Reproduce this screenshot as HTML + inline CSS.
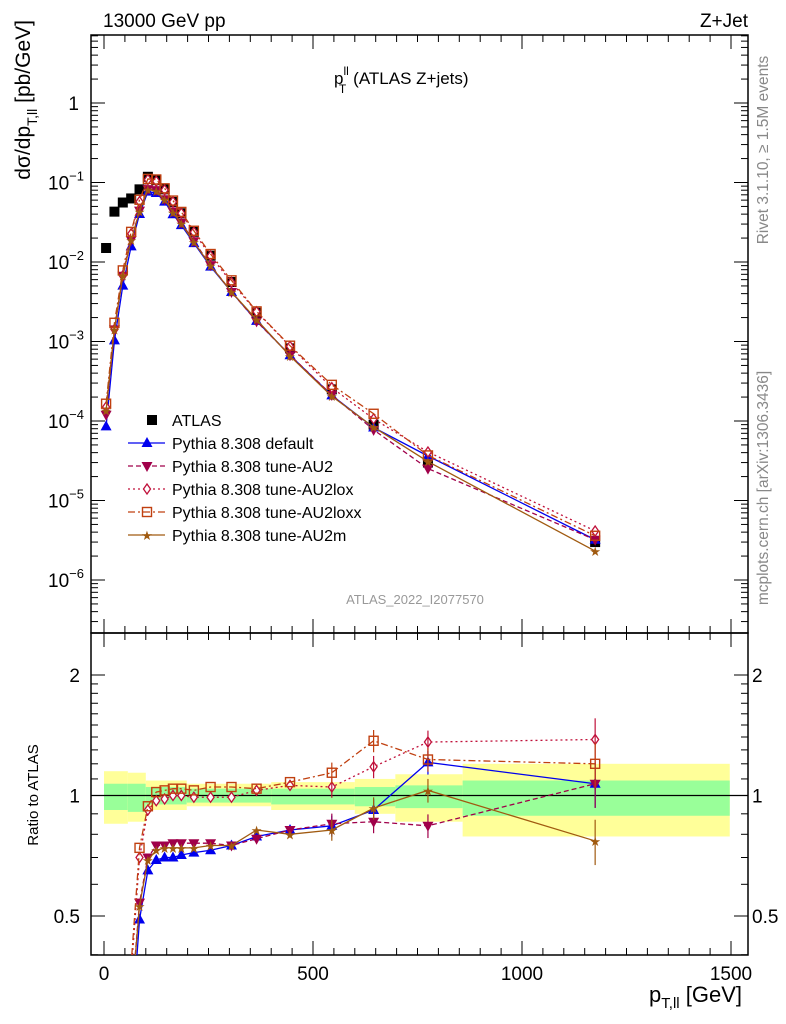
<!DOCTYPE html>
<html><head><meta charset="utf-8"><style>
html,body{margin:0;padding:0;background:#fff;overflow:hidden;width:786px;height:1024px;position:relative}
svg{display:block;position:absolute;left:0;top:0;font-family:"Liberation Sans",sans-serif;overflow:hidden}
</style></head><body>
<svg id="c" width="786" height="1024" viewBox="0 0 786 1024">
<rect x="0" y="0" width="786" height="1024" fill="#fff"/>
<g id="bands"></g>
<g id="frame"></g>
<g id="series"></g>
<g id="legend"></g>
<text x="103" y="27" font-size="19">13000 GeV pp</text>
<text x="748" y="27" font-size="19" text-anchor="end">Z+Jet</text>
<text x="334" y="84" font-size="17">p<tspan dy="-9" font-size="12">ll</tspan><tspan dx="-10" dy="18" font-size="12">T</tspan><tspan dx="7" dy="-9">(ATLAS Z+jets)</tspan></text>
<text x="415" y="604" font-size="13" fill="#999" text-anchor="middle">ATLAS_2022_I2077570</text>
<text transform="translate(30,20) rotate(-90)" font-size="21" text-anchor="end">dσ/dp<tspan dy="7" font-size="14">T,ll</tspan><tspan dy="-7"> [pb/GeV]</tspan></text>
<text transform="translate(38,795) rotate(-90)" font-size="15" text-anchor="middle">Ratio to ATLAS</text>
<text x="742" y="1002" font-size="22" text-anchor="end">p<tspan dy="6" font-size="15">T,ll</tspan><tspan dy="-6"> [GeV]</tspan></text>
<text transform="translate(768,150) rotate(-90)" font-size="15.5" fill="#888" text-anchor="middle">Rivet 3.1.10, ≥ 1.5M events</text>
<text transform="translate(768,488) rotate(-90)" font-size="15.5" fill="#888" text-anchor="middle">mcplots.cern.ch [arXiv:1306.3436]</text>
</svg>
<script>
const xCenters=[5,25,45,65,85,105,125,145,165,185,215,255,305,365,445,545,645,775,1175];
const atlasVals=[0.015,0.043,0.056,0.063,0.082,0.118,0.107,0.082,0.057,0.041,0.024,0.012,0.0056,0.0023,0.00082,0.00025,0.00009,0.00003,0.000003];
const ratioDefault=[0.0057,0.024,0.09,0.25,0.49,0.65,0.69,0.70,0.70,0.71,0.72,0.73,0.75,0.79,0.82,0.84,0.92,1.21,1.07];
const ratioAU2=[0.008,0.033,0.12,0.3,0.54,0.70,0.75,0.75,0.76,0.76,0.76,0.76,0.75,0.78,0.82,0.85,0.86,0.84,1.07];
const ratioAU2lox=[0.01,0.033,0.12,0.36,0.70,0.92,0.97,0.98,1.0,1.0,0.99,0.99,0.99,1.03,1.06,1.05,1.18,1.36,1.38];
const ratioAU2loxx=[0.011,0.04,0.14,0.38,0.74,0.94,1.02,1.03,1.04,1.04,1.03,1.05,1.05,1.04,1.08,1.14,1.37,1.23,1.2];
const ratioAU2m=[0.009,0.033,0.12,0.3,0.53,0.69,0.73,0.74,0.74,0.74,0.74,0.75,0.75,0.82,0.80,0.82,0.93,1.03,0.77];
const bandEdges=[0,57,100,198,400,600,697,858,1497];
const bandGreenLo=[0.92,0.91,0.95,0.96,0.95,0.94,0.93,0.89];
const bandGreenHi=[1.07,1.07,1.05,1.04,1.04,1.05,1.06,1.09];
const bandYellowLo=[0.85,0.86,0.92,0.94,0.92,0.90,0.86,0.79];
const bandYellowHi=[1.15,1.14,1.09,1.07,1.08,1.10,1.13,1.20];
const topTicks=[[1,"1"],[0.1,"10"],[0.01,"10"],[0.001,"10"],[1e-4,"10"],[1e-5,"10"],[1e-6,"10"]];
const topExp=["","−1","−2","−3","−4","−5","−6"];
const xTicks=[0,500,1000,1500];
const ratioTicks=[2,1,0.5];

const NS="http://www.w3.org/2000/svg";
const L=91,R=748,T1=35,B1=633,T2=633,B2=955;
const X=v=>104+v*0.418;
const Y1=v=>103-Math.log10(v)*79.5;
const Y2=v=>795.5-Math.log2(v)*120.5;
function mk(p,tag,a){const e=document.createElementNS(NS,tag);for(const k in a)e.setAttribute(k,a[k]);p.appendChild(e);return e;}
const svg=document.getElementById('c');
const gB=document.getElementById('bands'),gF=document.getElementById('frame'),gS=document.getElementById('series'),gL=document.getElementById('legend');

for(let i=0;i<bandGreenLo.length;i++){
 const x0=X(bandEdges[i]),x1=X(bandEdges[i+1]);
 const y=mk(gB,'rect',{x:x0,y:Y2(bandYellowHi[i]),width:x1-x0,height:Y2(bandYellowLo[i])-Y2(bandYellowHi[i]),fill:'#ffff99'});
 
 
 const g=mk(gB,'rect',{x:x0,y:Y2(bandGreenHi[i]),width:x1-x0,height:Y2(bandGreenLo[i])-Y2(bandGreenHi[i]),fill:'#99ff99'});
 
 
}
const unity=mk(gF,'line',{x1:L,x2:R,y1:Y2(1),y2:Y2(1),stroke:'#000','stroke-width':1.2});


const f1=mk(gF,'rect',{x:L,y:T1,width:R-L,height:B1-T1,fill:'none',stroke:'#000','stroke-width':1.5});


const f2=mk(gF,'rect',{x:L,y:T2,width:R-L,height:B2-T2,fill:'none',stroke:'#000','stroke-width':1.5});


for(let d=-7;d<=0;d++){for(let m=1;m<=9;m++){const v=m*Math.pow(10,d);const y=Y1(v);if(y<T1||y>B1)continue;const len=m==1?14:7;
 mk(gF,'line',{x1:L,x2:L+len,y1:y,y2:y,stroke:'#000'});mk(gF,'line',{x1:R-len,x2:R,y1:y,y2:y,stroke:'#000'});}}
topTicks.forEach((t,i)=>{const y=Y1(t[0]);const tx=mk(gF,'text',{x:i==0?79:66,y:y+7,'font-size':19,'text-anchor':i==0?'end':'middle'});
 tx.textContent=t[1];
 
 
 if(topExp[i]){const s=mk(tx,'tspan',{dy:-9,'font-size':13});s.textContent=topExp[i];}});
[0.4,0.5,0.6,0.7,0.8,0.9,1,1.1,1.2,1.3,1.4,1.5,1.6,1.7,1.8,1.9,2].forEach(v=>{const y=Y2(v);if(y<T2||y>B2)return;const len=(v==0.5||v==1||v==2)?14:7;
 mk(gF,'line',{x1:L,x2:L+len,y1:y,y2:y,stroke:'#000'});mk(gF,'line',{x1:R-len,x2:R,y1:y,y2:y,stroke:'#000'});});
ratioTicks.forEach(v=>{[[80,'end'],[752,'start']].forEach(p=>{const t=mk(gF,'text',{x:p[0],y:Y2(v)+7,'font-size':19,'text-anchor':p[1]});t.textContent=String(v);
 
 });});
for(let v=0;v<=1500;v+=50){const x=X(v);if(x<L||x>R)continue;const len=v%500==0?14:7;
 [[T1,1],[B1,-1],[T2,1],[B2,-1]].forEach(p=>mk(gF,'line',{x1:x,x2:x,y1:p[0],y2:p[0]+p[1]*len,stroke:'#000'}));}
xTicks.forEach(v=>{const t=mk(gF,'text',{x:X(v),y:980,'font-size':19,'text-anchor':'middle'});t.textContent=String(v);
 
 });

function marker(g,type,x,y,col){
 const s=5;
 if(type=='sq')return mk(g,'rect',{x:x-s,y:y-s,width:2*s,height:2*s,fill:'#000'});
 if(type=='up')return mk(g,'polygon',{points:`${x},${y-6} ${x-5.5},${y+4} ${x+5.5},${y+4}`,fill:col});
 if(type=='down')return mk(g,'polygon',{points:`${x},${y+6} ${x-5.5},${y-4} ${x+5.5},${y-4}`,fill:col});
 if(type=='dia')return mk(g,'polygon',{points:`${x},${y-5} ${x-3.5},${y} ${x},${y+5} ${x+3.5},${y}`,fill:'#fff',stroke:col,'stroke-width':1.3});
 if(type=='osq')return mk(g,'rect',{x:x-4.5,y:y-4.5,width:9,height:9,fill:'none',stroke:col,'stroke-width':1.4});
 if(type=='star')return mk(g,'text',{x:x,y:y+5,'font-size':13,'text-anchor':'middle',fill:col}).appendChild(document.createTextNode('★'));
}
// clip a polyline to y<=yMax manually (so no geometry leaves the frame)
function clipPts(pts,yMax){
 const out=[];
 for(let i=0;i<pts.length;i++){
  const p=pts[i];
  if(p[1]<=yMax){
   if(i>0&&pts[i-1][1]>yMax){const q=pts[i-1];const t=(yMax-q[1])/(p[1]-q[1]);out.push([q[0]+t*(p[0]-q[0]),yMax]);}
   out.push(p);
  }
 }
 return out;
}
const series=[
 {name:'Pythia 8.308 default',r:ratioDefault,col:'#0000ee',dash:'',m:'up',id:'default'},
 {name:'Pythia 8.308 tune-AU2',r:ratioAU2,col:'#a0004a',dash:'5,3',m:'down',id:'au2'},
 {name:'Pythia 8.308 tune-AU2lox',r:ratioAU2lox,col:'#c0103a',dash:'2,3',m:'dia',id:'au2lox'},
 {name:'Pythia 8.308 tune-AU2loxx',r:ratioAU2loxx,col:'#c04010',dash:'7,3,2,3',m:'osq',id:'au2loxx'},
 {name:'Pythia 8.308 tune-AU2m',r:ratioAU2m,col:'#a05a10',dash:'',m:'star',id:'au2m'}];
atlasVals.forEach((v,i)=>{const e=marker(gS,'sq',X(xCenters[i]),Y1(v));
 
 });
series.forEach(s=>{
 const g=mk(gS,'g',{});
 
 
 const vals=s.r.map((r,i)=>atlasVals[i]*r);
 const p1=mk(g,'polyline',{points:vals.map((v,i)=>X(xCenters[i])+','+Y1(v)).join(' '),fill:'none',stroke:s.col,'stroke-width':1.3,'stroke-dasharray':s.dash});
 
 
 vals.forEach((v,i)=>marker(g,s.m,X(xCenters[i]),Y1(v),s.col));
 const rp=clipPts(s.r.map((r,i)=>[X(xCenters[i]),Y2(r)]),B2);
 const p2=mk(g,'polyline',{points:rp.map(p=>p[0]+','+p[1]).join(' '),fill:'none',stroke:s.col,'stroke-width':1.3,'stroke-dasharray':s.dash});
 
 
 s.r.forEach((r,i)=>{const y=Y2(r);if(y<T2+5||y>B2-5)return;marker(g,s.m,X(xCenters[i]),y,s.col);
  if(i>=15){const e=0.06*i/15*(i==18?1.8:1);mk(g,'line',{x1:X(xCenters[i]),x2:X(xCenters[i]),y1:Y2(r*(1+e)),y2:Math.min(B2,Y2(r*(1-e))),stroke:s.col,'stroke-width':1.2});}});
});
const ly=[420,443,466,489,512,535];
const lt=mk(gL,'text',{x:172,y:ly[0]+6,'font-size':16});lt.textContent='ATLAS';


marker(gL,'sq',152,ly[0]);
series.forEach((s,i)=>{const y=ly[i+1];
 mk(gL,'line',{x1:128,x2:165,y1:y,y2:y,stroke:s.col,'stroke-width':1.3,'stroke-dasharray':s.dash});
 marker(gL,s.m,147,y,s.col);
 const t=mk(gL,'text',{x:172,y:y+6,'font-size':16});t.textContent=s.name;
 
 });
</script>
</body></html>
